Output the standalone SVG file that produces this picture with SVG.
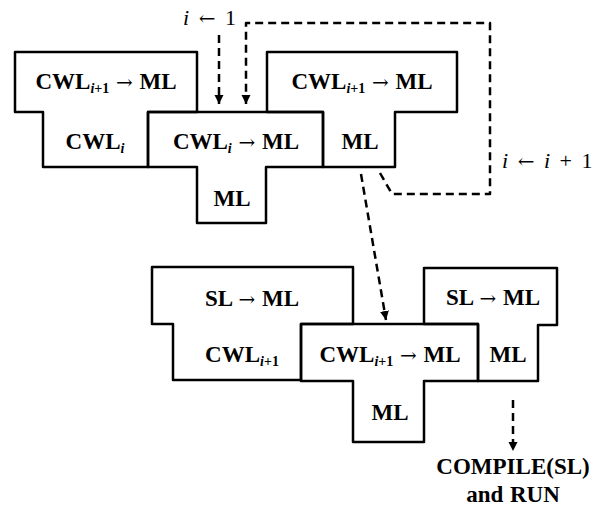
<svg xmlns="http://www.w3.org/2000/svg" width="605" height="507" viewBox="0 0 605 507">
<style>
.box{fill:none;stroke:#000;stroke-width:2.5;stroke-linejoin:round}
.lbl{font-family:"Liberation Serif","Times New Roman",serif;font-weight:bold;font-size:23px;fill:#000;text-anchor:middle;word-spacing:1px}
.sub{font-size:14px}
.it{font-style:italic}
.ar{font-family:"DejaVu Serif",serif;font-weight:normal;font-size:20px}
.dash{fill:none;stroke:#000;stroke-width:2.5;stroke-dasharray:8 5;stroke-linejoin:round}
.note{font-family:"Liberation Serif","Times New Roman",serif;font-size:22px;fill:#000;word-spacing:4px}
</style>
<defs>
<marker id="ah" markerUnits="userSpaceOnUse" markerWidth="10" markerHeight="10" refX="9" refY="4.5" orient="auto">
<path d="M0,0 L9,4.5 L0,9 Z" fill="#000"/>
</marker>
</defs>
<g id="t1">
<path class="box" d="M15,52 H197 V112 H148 V167 H43 V112 H15 Z"/>
<text class="lbl" x="106" y="89">CWL<tspan class="sub it" dy="4">i</tspan><tspan class="sub">+1</tspan><tspan dy="-4"> </tspan><tspan class="ar">→</tspan> ML</text>
<text class="lbl" x="95" y="149">CWL<tspan class="sub it" dy="4">i</tspan></text>
</g>
<g id="t2">
<path class="box" d="M148,112 H323 V167 H266 V223 H197 V167 H148 Z"/>
<text class="lbl" x="236" y="149">CWL<tspan class="sub it" dy="4">i</tspan><tspan dy="-4"> </tspan><tspan class="ar">→</tspan> ML</text>
<text class="lbl" x="232" y="206">ML</text>
</g>
<g id="t3">
<path class="box" d="M267,52 H457 V112 H395 V167 H323 V112 H267 Z"/>
<text class="lbl" x="362" y="89">CWL<tspan class="sub it" dy="4">i</tspan><tspan class="sub">+1</tspan><tspan dy="-4"> </tspan><tspan class="ar">→</tspan> ML</text>
<text class="lbl" x="360" y="149">ML</text>
</g>
<g id="t4">
<path class="box" d="M152,267 H353 V324 H301 V380 H173 V324 H152 Z"/>
<text class="lbl" x="252" y="306">SL <tspan class="ar">→</tspan> ML</text>
<text class="lbl" x="242" y="362">CWL<tspan class="sub it" dy="4">i</tspan><tspan class="sub">+1</tspan></text>
</g>
<g id="t5">
<path class="box" d="M301,324 H478 V381 H424 V442 H353 V381 H301 Z"/>
<text class="lbl" x="390" y="362">CWL<tspan class="sub it" dy="4">i</tspan><tspan class="sub">+1</tspan><tspan dy="-4"> </tspan><tspan class="ar">→</tspan> ML</text>
<text class="lbl" x="390" y="420">ML</text>
</g>
<g id="t6">
<path class="box" d="M424,268 H557 V325 H538 V381 H478 V324 H424 Z"/>
<text class="lbl" x="493" y="305">SL <tspan class="ar">→</tspan> ML</text>
<text class="lbl" x="508" y="362">ML</text>
</g>
<g id="connectors">
<path class="dash" d="M219,35 V104" marker-end="url(#ah)"/>
<path class="dash" d="M380,173 L392,194 H490 V23 H246 V104" marker-end="url(#ah)"/>
<path class="dash" d="M361,174 L386,320" marker-end="url(#ah)"/>
<path class="dash" d="M513,400 V451" marker-end="url(#ah)"/>
</g>
<g id="labels">
<text class="note" x="183" y="25"><tspan class="it">i</tspan> <tspan class="ar">←</tspan> 1</text>
<text class="note" x="502" y="168"><tspan class="it">i</tspan> <tspan class="ar">←</tspan> <tspan class="it">i</tspan> + 1</text>
<text class="lbl" x="513" y="474">COMPILE(SL)</text>
<text class="lbl" x="513" y="502">and RUN</text>
</g>
</svg>
